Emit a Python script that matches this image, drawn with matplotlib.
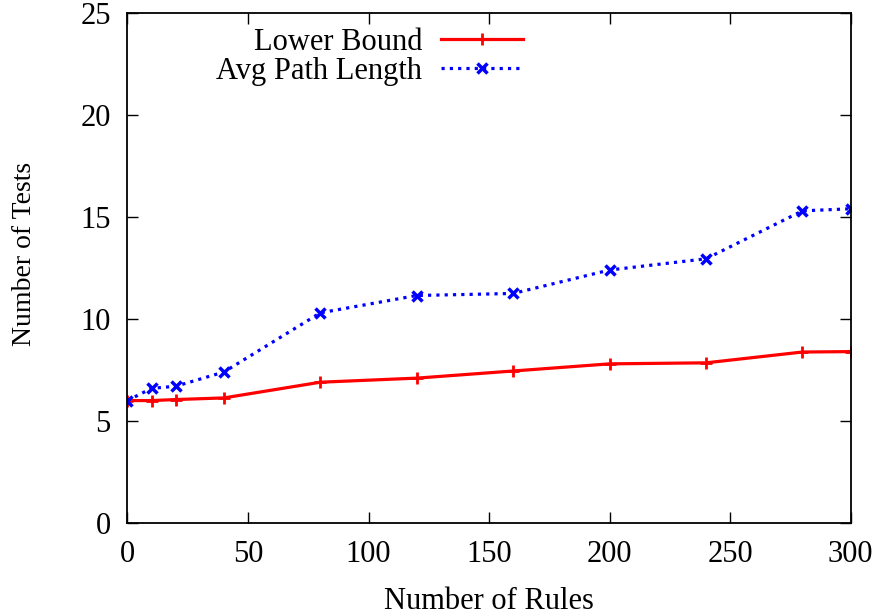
import numpy as np
import matplotlib
matplotlib.use("Agg")
import matplotlib.pyplot as plt

plt.rcParams['font.family'] = ['Liberation Serif', 'DejaVu Serif']

# data
rules = [0, 10, 20, 40, 80, 120, 160, 200, 240, 280, 300]
lower_bound = [6.0, 6.0, 6.05, 6.13, 6.9, 7.1, 7.45, 7.8, 7.85, 8.38, 8.4]
avg_path = [6.0, 6.6, 6.7, 7.4, 10.3, 11.15, 11.25, 12.4, 12.95, 15.3, 15.4]

fig = plt.figure(figsize=(8.82, 6.16), dpi=100)
ax = fig.add_axes([0.1445, 0.151, 0.820, 0.828])

ax.plot(rules, lower_bound, color='red', lw=2.3, marker='+', ms=9, mew=2,
        label='Lower Bound')
ax.plot(rules, avg_path, color='blue', lw=2.3, ls=(0, (1, 1.6)), marker='x',
        ms=7, mew=2.5, label='Avg Path Length')

ax.set_xlim(0, 300)
ax.set_ylim(0, 25)
ax.set_xticks(np.arange(0, 301, 50))
ax.set_yticks(np.arange(0, 26, 5))
ax.tick_params(direction='in', length=8, width=1, top=True, right=True,
               labelsize=22)
ax.tick_params(axis='x', pad=12)
ax.tick_params(axis='y', pad=12)
for s in ax.spines.values():
    s.set_linewidth(1.3)

ax.set_xlabel('Number of Rules', fontsize=22, labelpad=13)
ax.set_ylabel('Number of Tests', fontsize=20)
ax.yaxis.set_label_coords(-0.125, 0.527)

ax.legend(loc='upper left', bbox_to_anchor=(0.085, 1.025), frameon=False,
          markerfirst=False, fontsize=22, handlelength=2.7, handletextpad=0.6,
          labelspacing=0.0)

fig.savefig('out.png', dpi=100)
